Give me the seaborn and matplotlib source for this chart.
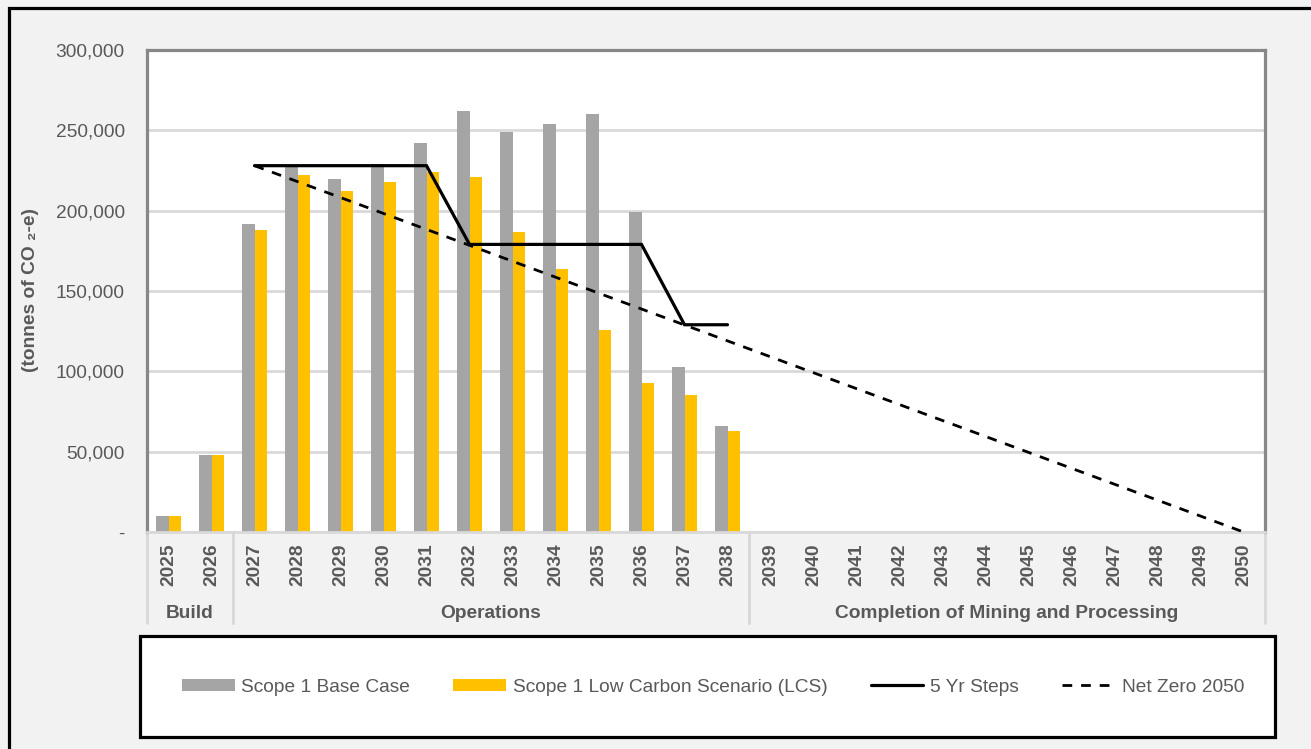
import pandas as pd
import matplotlib
matplotlib.use("Agg")
import matplotlib.pyplot as plt
import matplotlib.transforms as mtransforms
from matplotlib.patches import Rectangle
from matplotlib.lines import Line2D
import seaborn as sns

# Data
years = [str(y) for y in range(2025, 2051)]
bar_years = [str(y) for y in range(2025, 2039)]
base_case = [10000, 48000, 192000, 227000, 220000, 229000, 242000,
             262000, 249000, 254000, 260000, 199000, 103000, 66000]
low_carbon = [10000, 48000, 188000, 222000, 212000, 218000, 224000,
              221000, 187000, 164000, 126000, 93000, 85000, 63000]
step_years = [str(y) for y in range(2027, 2039)]
step_values = [228000, 228000, 228000, 228000, 228000, 179000,
               179000, 179000, 179000, 179000, 129000, 129000]
netzero_years = ["2027", "2050"]
netzero_values = [228000, 0]
phases = ["Build", "Operations", "Completion of Mining and Processing"]
phase_spans = [("2025", "2026"), ("2027", "2038"), ("2039", "2050")]

GRAY = "#a5a5a5"
GOLD = "#ffc000"
TXT = "#595959"
LIGHT = "#d9d9d9"
FS = 13.8

sns.set_theme(style="white")
plt.rcParams['font.family'] = ['Liberation Sans', 'DejaVu Sans']

df = pd.DataFrame({
    "year": bar_years * 2,
    "series": ["Scope 1 Base Case"] * len(bar_years) + ["Scope 1 Low Carbon Scenario (LCS)"] * len(bar_years),
    "value": base_case + low_carbon,
})

W, H = 1311, 749
fig = plt.figure(figsize=(W / 100, H / 100), dpi=100, facecolor="#f2f2f2")
ax = fig.add_axes([147 / W, 1 - 532 / H, (1265 - 147) / W, (532 - 50) / H])
ax.set_facecolor("white")

sns.barplot(data=df, x="year", y="value", hue="series", order=years,
            hue_order=["Scope 1 Base Case", "Scope 1 Low Carbon Scenario (LCS)"],
            palette=[GRAY, GOLD], saturation=1, width=0.56, gap=0, linewidth=0,
            legend=False, ax=ax, zorder=2)

pos = {y: i for i, y in enumerate(years)}
ax.plot([pos[y] for y in step_years], step_values, color="black", lw=2.3,
        solid_joinstyle="miter", zorder=3)
ax.plot([pos[y] for y in netzero_years], netzero_values, color="black", lw=2.0,
        linestyle=(0, (3.5, 3.2)), zorder=3)

ax.set_xlim(-0.5, len(years) - 0.5)
ax.set_ylim(0, 300000)
ax.set_yticks(range(0, 300001, 50000))
ax.set_yticklabels(["-" if v == 0 else f"{v:,}" for v in range(0, 300001, 50000)])
ax.yaxis.grid(True, color=LIGHT, lw=2)
ax.set_axisbelow(True)
ax.set_xlabel("")
ax.set_ylabel("")
ax.tick_params(axis="y", length=0, pad=16, labelsize=FS, labelcolor=TXT)
ax.tick_params(axis="x", length=0, pad=8, labelsize=FS, labelcolor=TXT)
for lab in ax.get_xticklabels():
    lab.set_rotation(90)
    lab.set_fontweight("bold")

for s in ["left", "top", "right"]:
    ax.spines[s].set_color("#878787")
    ax.spines[s].set_linewidth(2.3)
ax.spines["bottom"].set_color(LIGHT)
ax.spines["bottom"].set_linewidth(2)

# multi-level category axis
trans = mtransforms.blended_transform_factory(ax.transData, ax.transAxes)
sep_bottom = -(623 - 532) / 482
for (a, b) in phase_spans:
    for x in (pos[a] - 0.5, pos[b] + 0.5):
        ax.plot([x, x], [0, sep_bottom], color=LIGHT, lw=2, transform=trans,
                clip_on=False, zorder=1)
for name, (a, b) in zip(phases, phase_spans):
    ax.text((pos[a] + pos[b]) / 2, -(613 - 532) / 482, name, transform=trans,
            ha="center", va="center", fontsize=FS, fontweight="bold", color=TXT)

fig.text(31 / W, 1 - 290 / H, "(tonnes of CO \u2082-e)", rotation=90, ha="center",
         va="center", fontsize=FS, fontweight="bold", color=TXT)

# legend box
fig.patches.append(Rectangle((140 / W, 1 - 737 / H), (1275 - 140) / W, (737 - 636) / H,
                             transform=fig.transFigure, facecolor="white",
                             edgecolor="black", lw=2.3, zorder=0))
handles = [
    Rectangle((0, 0), 1, 1, facecolor=GRAY, edgecolor="none"),
    Rectangle((0, 0), 1, 1, facecolor=GOLD, edgecolor="none"),
    Line2D([], [], color="black", lw=2.3),
    Line2D([], [], color="black", lw=2.0, linestyle=(0, (3.5, 3.2))),
]
labels = ["Scope 1 Base Case", "Scope 1 Low Carbon Scenario (LCS)", "5 Yr Steps", "Net Zero 2050"]
leg = fig.legend(handles, labels, loc="center", bbox_to_anchor=(713 / W, 1 - 687 / H),
                 ncol=4, frameon=False, fontsize=FS, handlelength=2.75,
                 handleheight=0.6, handletextpad=0.35, columnspacing=2.25)
for t in leg.get_texts():
    t.set_color(TXT)

# outer frame (cut off on right and bottom)
fig.patches.append(Rectangle((9 / W, -0.2), 1.2, 1 - 8 / H + 0.2, transform=fig.transFigure,
                             facecolor="none", edgecolor="black", lw=2.3, clip_on=False))

fig.savefig("out.png", dpi=100, facecolor=fig.get_facecolor())
